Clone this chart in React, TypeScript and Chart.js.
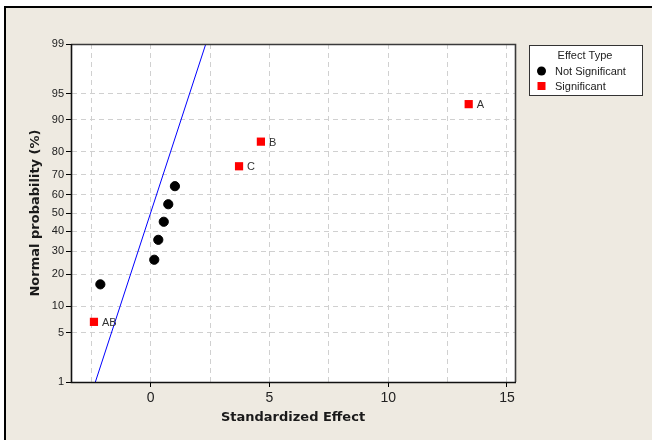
import React, { useEffect, useRef } from "react";
import { Chart, registerables } from "chart.js";

Chart.register(...registerables);

// ---- data ----
const seriesNames = ["Not Significant", "Significant"];
const legendTitle = "Effect Type";
const xAxisTitle = "Standardized Effect";
const yAxisTitle = "Normal probability (%)";

const notSigEffects = [-2.12, 0.15, 0.32, 0.55, 0.74, 1.02];
const notSigPercents = [16.3, 26.0, 35.6, 45.2, 54.8, 64.4];

const sigLabels = ["AB", "C", "B", "A"];
const sigEffects = [-2.39, 3.72, 4.64, 13.39];
const sigPercents = [6.7, 74.0, 83.7, 93.3];

const fitLineEffects = [-2.33, 2.32];
const fitLinePercents = [1, 99];

const yTickPercents = [1, 5, 10, 20, 30, 40, 50, 60, 70, 80, 90, 95, 99];
const xTickValues = [-2.5, 0, 2.5, 5, 7.5, 10, 12.5, 15];
const xLabelledTicks = [0, 5, 10, 15];
const xMin = -3.356;
const xMax = 15.34;

// inverse normal CDF (Acklam) to build the normal probability scale
function probit(p: number): number {
  const a = [-3.969683028665376e1, 2.209460984245205e2, -2.759285104469687e2, 1.38357751867269e2, -3.066479806614716e1, 2.506628277459239];
  const b = [-5.447609879822406e1, 1.615858368580409e2, -1.556989798598866e2, 6.680131188771972e1, -1.328068155288572e1];
  const c = [-7.784894002430293e-3, -3.223964580411365e-1, -2.400758277161838, -2.549732539343734, 4.374664141464968, 2.938163982698783];
  const d = [7.784695709041462e-3, 3.224671290700398e-1, 2.445134137142996, 3.754408661907416];
  const pl = 0.02425;
  if (p < pl) {
    const q = Math.sqrt(-2 * Math.log(p));
    return (((((c[0] * q + c[1]) * q + c[2]) * q + c[3]) * q + c[4]) * q + c[5]) / ((((d[0] * q + d[1]) * q + d[2]) * q + d[3]) * q + 1);
  }
  if (p > 1 - pl) {
    const q = Math.sqrt(-2 * Math.log(1 - p));
    return -(((((c[0] * q + c[1]) * q + c[2]) * q + c[3]) * q + c[4]) * q + c[5]) / ((((d[0] * q + d[1]) * q + d[2]) * q + d[3]) * q + 1);
  }
  const q = p - 0.5;
  const r = q * q;
  return ((((((a[0] * r + a[1]) * r + a[2]) * r + a[3]) * r + a[4]) * r + a[5]) * q) / (((((b[0] * r + b[1]) * r + b[2]) * r + b[3]) * r + b[4]) * r + 1);
}
const zOf = (pct: number) => probit(pct / 100);

const SMALL_FONT = '"Liberation Sans", Arial, sans-serif';
const TITLE_FONT = '"DejaVu Sans", Verdana, sans-serif';
const BG = "#EEEAE1";
const GRID = "#d0d0d0";

const decorPlugin = {
  id: "decor",
  beforeDraw(chart: any) {
    const { ctx, width, height, chartArea: a } = chart;
    ctx.save();
    ctx.fillStyle = "#ffffff";
    ctx.fillRect(0, 0, width, height);
    ctx.fillStyle = BG;
    ctx.fillRect(4, 6, width - 4, height - 6);
    ctx.fillStyle = "#000000";
    ctx.fillRect(4, 6, width - 4, 2);
    ctx.fillRect(4, 6, 2, height - 6);
    ctx.fillStyle = "#ffffff";
    ctx.fillRect(a.left, a.top, a.right - a.left, a.bottom - a.top);
    ctx.restore();
  },
  afterDatasetsDraw(chart: any) {
    const { ctx } = chart;
    const meta = chart.getDatasetMeta(2);
    ctx.save();
    ctx.font = `11px ${SMALL_FONT}`;
    ctx.fillStyle = "#333333";
    ctx.textAlign = "left";
    ctx.textBaseline = "middle";
    meta.data.forEach((pt: any, i: number) => {
      ctx.fillText(sigLabels[i], pt.x + 8, pt.y + 1);
    });
    ctx.restore();
  },
  afterDraw(chart: any) {
    const { ctx, chartArea: a } = chart;
    ctx.save();
    // plot frame
    ctx.lineWidth = 1.6;
    ctx.strokeStyle = "#3a3a3a";
    ctx.beginPath();
    ctx.moveTo(a.left, a.top + 0.5);
    ctx.lineTo(a.right + 0.5, a.top + 0.5);
    ctx.lineTo(a.right + 0.5, a.bottom);
    ctx.stroke();
    ctx.strokeStyle = "#111111";
    ctx.beginPath();
    ctx.moveTo(a.left + 0.5, a.top);
    ctx.lineTo(a.left + 0.5, a.bottom + 0.5);
    ctx.lineTo(a.right + 1, a.bottom + 0.5);
    ctx.stroke();

    // legend
    const lx = 529, ly = 45, lw = 114, lh = 51;
    ctx.lineWidth = 1;
    ctx.fillStyle = "#ffffff";
    ctx.fillRect(lx, ly, lw, lh);
    ctx.strokeStyle = "#333333";
    ctx.strokeRect(lx + 0.5, ly + 0.5, lw - 1, lh - 1);
    ctx.font = `11px ${SMALL_FONT}`;
    ctx.fillStyle = "#222222";
    ctx.textBaseline = "middle";
    ctx.textAlign = "center";
    ctx.fillText(legendTitle, 585, 56);
    ctx.textAlign = "left";
    ctx.beginPath();
    ctx.arc(541.5, 71, 4.5, 0, Math.PI * 2);
    ctx.fillStyle = "#000000";
    ctx.fill();
    ctx.fillStyle = "#222222";
    ctx.fillText(seriesNames[0], 555, 71.5);
    ctx.fillStyle = "#ff0000";
    ctx.fillRect(537.5, 82, 8, 8);
    ctx.fillStyle = "#222222";
    ctx.fillText(seriesNames[1], 555, 86.5);
    ctx.restore();
  },
};

export default function App() {
  const canvasRef = useRef<HTMLCanvasElement | null>(null);

  useEffect(() => {
    const canvas = canvasRef.current;
    if (!canvas) return;
    const chart = new Chart(canvas, {
      type: "scatter",
      data: {
        datasets: [
          {
            label: "fit",
            type: "line",
            data: fitLineEffects.map((x, i) => ({ x, y: zOf(fitLinePercents[i]) })),
            borderColor: "#0000ff",
            borderWidth: 1,
            pointRadius: 0,
            showLine: true,
            fill: false,
            tension: 0,
          } as any,
          {
            label: seriesNames[0],
            data: notSigEffects.map((x, i) => ({ x, y: zOf(notSigPercents[i]) })),
            pointStyle: "circle",
            pointRadius: 4.6,
            pointBackgroundColor: "#000000",
            pointBorderColor: "#000000",
            pointBorderWidth: 1,
          },
          {
            label: seriesNames[1],
            data: sigEffects.map((x, i) => ({ x, y: zOf(sigPercents[i]) })),
            pointStyle: "rect",
            pointRadius: 5.8,
            pointBackgroundColor: "#ff0000",
            pointBorderColor: "#ff0000",
            pointBorderWidth: 0,
          },
        ],
      },
      options: {
        responsive: false,
        animation: false,
        devicePixelRatio: 1,
        layout: { padding: { left: 0, top: 44, right: 137, bottom: 0 } },
        plugins: {
          legend: { display: false },
          tooltip: { enabled: false },
        },
        scales: {
          x: {
            type: "linear",
            min: xMin,
            max: xMax,
            afterBuildTicks: (scale: any) => {
              scale.ticks = xTickValues.map((v) => ({ value: v }));
            },
            afterFit: (scale: any) => {
              scale.height = 58;
            },
            ticks: {
              autoSkip: false,
              maxRotation: 0,
              padding: 3,
              color: "#222222",
              font: { family: SMALL_FONT, size: 14 },
              callback: (v: any) => (xLabelledTicks.includes(Number(v)) ? String(v) : ""),
            },
            grid: {
              color: GRID,
              lineWidth: 1,
              drawTicks: true,
              tickLength: 5,
              tickWidth: 1,
              tickColor: (ctx: any) =>
                ctx.tick && xLabelledTicks.includes(ctx.tick.value) ? "#000000" : "rgba(0,0,0,0)",
            },
            border: { display: true, color: "#000000", width: 1, dash: [5, 4] },
            title: {
              display: true,
              text: xAxisTitle,
              color: "#1a1a1a",
              font: { family: TITLE_FONT, size: 13, weight: "bold" },
              padding: { top: 0, bottom: 15 },
            },
          },
          y: {
            type: "linear",
            min: zOf(1),
            max: zOf(99),
            afterBuildTicks: (scale: any) => {
              scale.ticks = yTickPercents.map((p) => ({ value: zOf(p) }));
            },
            afterFit: (scale: any) => {
              scale.width = 71;
            },
            ticks: {
              autoSkip: false,
              padding: 2,
              color: "#222222",
              font: { family: SMALL_FONT, size: 11 },
              callback: (_v: any, i: number) => String(yTickPercents[i]),
            },
            grid: {
              color: GRID,
              lineWidth: 1,
              drawTicks: true,
              tickLength: 5,
              tickWidth: 1,
              tickColor: "#000000",
            },
            border: { display: true, color: "#000000", width: 1, dash: [5, 4] },
            title: {
              display: true,
              text: yAxisTitle,
              color: "#1a1a1a",
              font: { family: TITLE_FONT, size: 13, weight: "bold" },
              padding: { top: 28, bottom: 0 },
            },
          },
        },
      },
      plugins: [decorPlugin],
    });
    return () => chart.destroy();
  }, []);

  return (
    <div style={{ position: "fixed", left: 0, top: 0, width: 652, height: 440 }}>
      <canvas ref={canvasRef} width={652} height={440} style={{ display: "block", width: 652, height: 440 }} />
    </div>
  );
}
